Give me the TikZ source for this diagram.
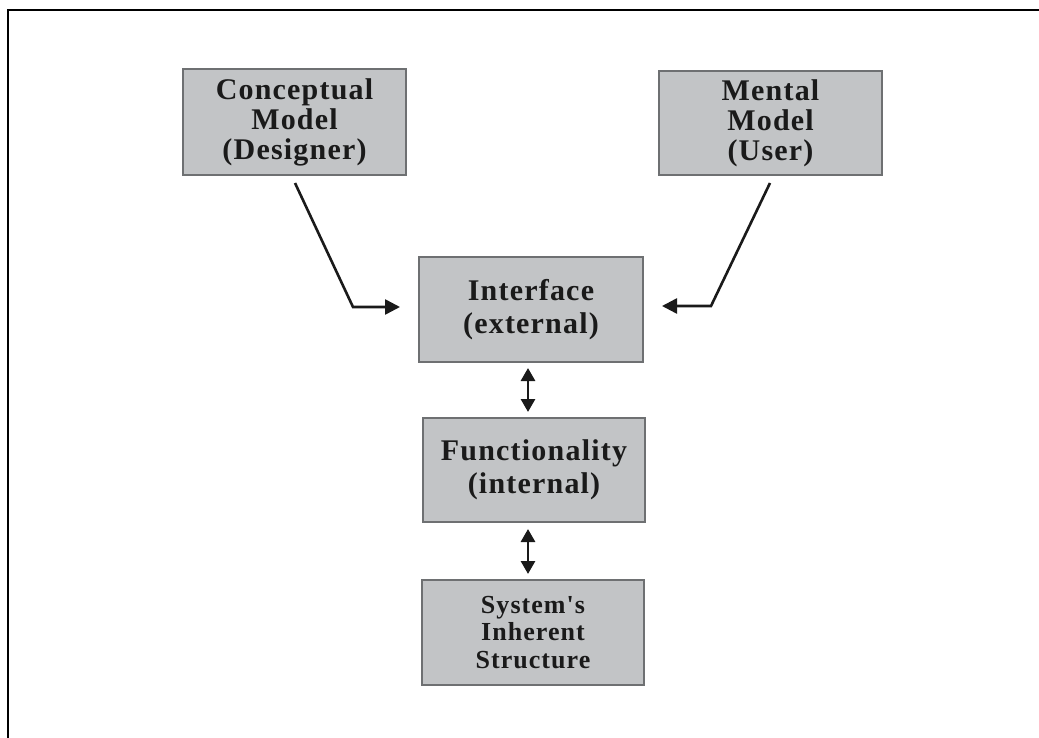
\documentclass[tikz,border=0pt]{standalone}
\usepackage{fontspec}
\setmainfont{Liberation Serif}
\newfontfamily\boxfont[LetterSpace=4]{Liberation Serif}
\usetikzlibrary{arrows.meta}
\definecolor{boxfill}{HTML}{C2C4C6}
\definecolor{boxline}{HTML}{6E7072}
\definecolor{ink}{HTML}{1A1A1A}
\tikzset{
  modelbox/.style={draw=boxline, line width=2pt, fill=boxfill, minimum width=222pt,
    minimum height=105pt, inner sep=0pt, align=center, text=ink,
    font=\boxfont\bfseries\fontsize{30}{30}\selectfont},
  smallbox/.style={modelbox, font=\boxfont\bfseries\fontsize{26}{27.5}\selectfont},
  conn/.style={line width=2.6pt, ink, line join=miter},
  tip/.style={-{Triangle[length=15pt,width=15pt]}},
  dbl/.style={{Triangle[length=13pt,width=14pt]}-{Triangle[length=13pt,width=14pt]}, line width=2.8pt, ink}
}
\begin{document}
\begin{tikzpicture}[x=1pt,y=-1pt]
\useasboundingbox (0,0) rectangle (1039,738);
\draw[line width=2.2pt, black] (1039,10) -- (8,10) -- (8,738);

\node[modelbox, minimum width=223pt, minimum height=106pt] (concept) at (294.5,122) {Conceptual\\Model\\(Designer)};
\node[modelbox, minimum width=223pt, minimum height=104pt] (mental) at (770.5,123) {Mental\\Model\\(User)};
\node[modelbox, minimum width=224pt, font=\boxfont\bfseries\fontsize{30}{33}\selectfont] (interface) at (531,309.5) {Interface\\(external)};
\node[modelbox, minimum height=104pt, font=\boxfont\bfseries\fontsize{30}{33}\selectfont] (func) at (534,470) {Functionality\\(internal)};
\node[smallbox] (system) at (533,632.5) {System's\\Inherent\\Structure};

\coordinate (cstart) at (295,183);
\coordinate (cbend) at (353,307);
\coordinate (mstart) at (770,183);
\coordinate (mbend) at (711,306);

\draw[conn, tip, shorten >=18pt] (cstart) -- (cbend) -- (cbend -| interface.west);
\draw[conn, tip, shorten >=18pt] (mstart) -- (mbend) -- (mbend -| interface.east);

\draw[dbl, shorten <=5pt, shorten >=5pt] ([xshift=-3pt]interface.south) -- ([xshift=-3pt]interface.south |- func.north);
\draw[dbl, shorten <=6pt, shorten >=5pt] ([xshift=-6pt]func.south) -- ([xshift=-6pt]func.south |- system.north);
\end{tikzpicture}
\end{document}
